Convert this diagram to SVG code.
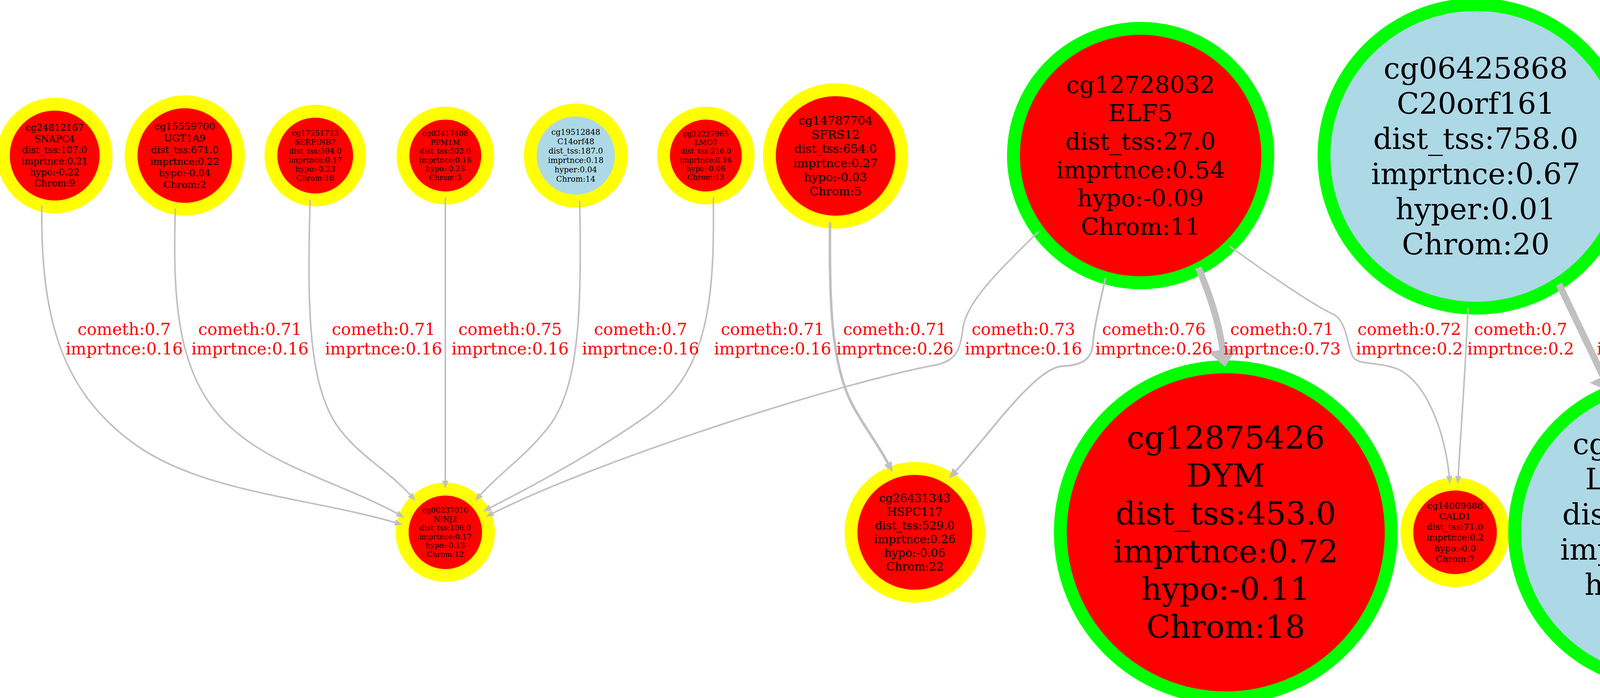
<svg xmlns="http://www.w3.org/2000/svg" width="5019" height="1786" viewBox="0 0 5019 1786">
<style>
.nd circle{stroke-width:33}
.rf{fill:#ff0000}.bf{fill:#add8e6}
.ys{stroke:#ffff00}.gs{stroke:#00ff00}
.nd text{font-family:"DejaVu Serif","Liberation Serif",serif;text-anchor:middle;fill:#000000}
.ed path{fill:none;stroke:#c0c0c0}
.t1{stroke-width:4}.t2{stroke-width:6.5}.t2b{stroke-width:4.5}.t3{stroke-width:17}
.lb{font-family:"DejaVu Serif","Liberation Serif",serif;font-size:42px;fill:#ff0000;text-anchor:middle}
</style>
<defs>
<marker id="a1" markerUnits="userSpaceOnUse" viewBox="0 -8 21 16" refX="0" refY="0" markerWidth="21" markerHeight="16" orient="auto" overflow="visible"><path d="M0,-8L21,0L0,8Z" fill="#c0c0c0"/></marker>
<marker id="a2" markerUnits="userSpaceOnUse" viewBox="0 -11 26 22" refX="0" refY="0" markerWidth="26" markerHeight="22" orient="auto" overflow="visible"><path d="M0,-11L26,0L0,11Z" fill="#c0c0c0"/></marker>
<marker id="a3" markerUnits="userSpaceOnUse" viewBox="0 -38 44 76" refX="0" refY="0" markerWidth="44" markerHeight="76" orient="auto" overflow="visible"><path d="M0,-38L44,0L0,38Z" fill="#c0c0c0"/></marker>
</defs>
<rect x="0" y="0" width="5019" height="1786" fill="#ffffff"/>

<g id="node_cg24812167" class="nd"><circle cx="140" cy="398" r="131.5" class="rf ys"/>
<text x="140" y="335.2" font-size="23.7"><tspan x="140">cg24812167</tspan><tspan x="140" dy="28.44">SNAPC4</tspan><tspan x="140" dy="28.44">dist_tss:107.0</tspan><tspan x="140" dy="28.44">imprtnce:0.21</tspan><tspan x="140" dy="28.44">hypo:-0.22</tspan><tspan x="140" dy="28.44">Chrom:9</tspan></text></g>

<g id="node_cg15559700" class="nd"><circle cx="473" cy="398" r="137.5" class="rf ys"/>
<text x="473" y="332.3" font-size="24.8"><tspan x="473">cg15559700</tspan><tspan x="473" dy="29.76">UGT1A9</tspan><tspan x="473" dy="29.76">dist_tss:671.0</tspan><tspan x="473" dy="29.76">imprtnce:0.22</tspan><tspan x="473" dy="29.76">hypo:-0.04</tspan><tspan x="473" dy="29.76">Chrom:2</tspan></text></g>

<g id="node_cg17251713" class="nd"><circle cx="807" cy="398" r="113.5" class="rf ys"/>
<text x="807" y="347.1" font-size="19.2"><tspan x="807">cg17251713</tspan><tspan x="807" dy="23.04">SERPINB7</tspan><tspan x="807" dy="23.04">dist_tss:394.0</tspan><tspan x="807" dy="23.04">imprtnce:0.17</tspan><tspan x="807" dy="23.04">hypo:-0.23</tspan><tspan x="807" dy="23.04">Chrom:18</tspan></text></g>

<g id="node_cg02417408" class="nd"><circle cx="1140" cy="398" r="108.5" class="rf ys"/>
<text x="1140" y="348.4" font-size="18.7"><tspan x="1140">cg02417408</tspan><tspan x="1140" dy="22.44">PPM1M</tspan><tspan x="1140" dy="22.44">dist_tss:502.0</tspan><tspan x="1140" dy="22.44">imprtnce:0.16</tspan><tspan x="1140" dy="22.44">hypo:-0.33</tspan><tspan x="1140" dy="22.44">Chrom:3</tspan></text></g>

<g id="node_cg19512848" class="nd"><circle cx="1474" cy="398" r="116.5" class="bf ys"/>
<text x="1474" y="345.3" font-size="19.9"><tspan x="1474">cg19512848</tspan><tspan x="1474" dy="23.88">C14orf48</tspan><tspan x="1474" dy="23.88">dist_tss:187.0</tspan><tspan x="1474" dy="23.88">imprtnce:0.18</tspan><tspan x="1474" dy="23.88">hyper:0.04</tspan><tspan x="1474" dy="23.88">Chrom:14</tspan></text></g>

<g id="node_cg22227965" class="nd"><circle cx="1807" cy="398" r="108.5" class="rf ys"/>
<text x="1807" y="348.7" font-size="18.6"><tspan x="1807">cg22227965</tspan><tspan x="1807" dy="22.32">LMO7</tspan><tspan x="1807" dy="22.32">dist_tss:216.0</tspan><tspan x="1807" dy="22.32">imprtnce:0.16</tspan><tspan x="1807" dy="22.32">hypo:-0.06</tspan><tspan x="1807" dy="22.32">Chrom:13</tspan></text></g>

<g id="node_cg14787704" class="nd"><circle cx="2139" cy="399" r="169.5" class="rf ys"/>
<text x="2139" y="319" font-size="30.2"><tspan x="2139">cg14787704</tspan><tspan x="2139" dy="36.24">SFRS12</tspan><tspan x="2139" dy="36.24">dist_tss:654.0</tspan><tspan x="2139" dy="36.24">imprtnce:0.27</tspan><tspan x="2139" dy="36.24">hypo:-0.03</tspan><tspan x="2139" dy="36.24">Chrom:5</tspan></text></g>

<g id="node_cg12728032" class="nd"><circle cx="2920" cy="398" r="325.5" class="rf gs"/>
<text x="2920" y="237.7" font-size="60.5"><tspan x="2920">cg12728032</tspan><tspan x="2920" dy="72.6">ELF5</tspan><tspan x="2920" dy="72.6">dist_tss:27.0</tspan><tspan x="2920" dy="72.6">imprtnce:0.54</tspan><tspan x="2920" dy="72.6">hypo:-0.09</tspan><tspan x="2920" dy="72.6">Chrom:11</tspan></text></g>

<g id="node_cg06425868" class="nd"><circle cx="3778" cy="400" r="388.5" class="bf gs"/>
<text x="3778" y="201.3" font-size="75"><tspan x="3778">cg06425868</tspan><tspan x="3778" dy="90">C20orf161</tspan><tspan x="3778" dy="90">dist_tss:758.0</tspan><tspan x="3778" dy="90">imprtnce:0.67</tspan><tspan x="3778" dy="90">hyper:0.01</tspan><tspan x="3778" dy="90">Chrom:20</tspan></text></g>

<g id="node_cg03332271" class="nd"><circle cx="4607" cy="400" r="390.5" class="bf gs"/>
<text x="4607" y="198.6" font-size="76"><tspan x="4607">cg03332271</tspan><tspan x="4607" dy="91.2">MST1R</tspan><tspan x="4607" dy="91.2">dist_tss:81.0</tspan><tspan x="4607" dy="91.2">imprtnce:0.68</tspan><tspan x="4607" dy="91.2">hyper:0.05</tspan><tspan x="4607" dy="91.2">Chrom:3</tspan></text></g>

<g id="node_cg00237010" class="nd"><circle cx="1140" cy="1362" r="110.5" class="rf ys"/>
<text x="1140" y="1312.2" font-size="18.8"><tspan x="1140">cg00237010</tspan><tspan x="1140" dy="22.56">NINJ2</tspan><tspan x="1140" dy="22.56">dist_tss:106.0</tspan><tspan x="1140" dy="22.56">imprtnce:0.17</tspan><tspan x="1140" dy="22.56">hypo:-0.13</tspan><tspan x="1140" dy="22.56">Chrom:12</tspan></text></g>

<g id="node_cg26431343" class="nd"><circle cx="2342" cy="1362" r="163.5" class="rf ys"/>
<text x="2342" y="1284.9" font-size="29.1"><tspan x="2342">cg26431343</tspan><tspan x="2342" dy="34.92">HSPC117</tspan><tspan x="2342" dy="34.92">dist_tss:529.0</tspan><tspan x="2342" dy="34.92">imprtnce:0.26</tspan><tspan x="2342" dy="34.92">hypo:-0.06</tspan><tspan x="2342" dy="34.92">Chrom:22</tspan></text></g>

<g id="node_cg12875426" class="nd"><circle cx="3138" cy="1362" r="423.5" class="rf gs"/>
<text x="3138" y="1148.4" font-size="80.6"><tspan x="3138">cg12875426</tspan><tspan x="3138" dy="96.72">DYM</tspan><tspan x="3138" dy="96.72">dist_tss:453.0</tspan><tspan x="3138" dy="96.72">imprtnce:0.72</tspan><tspan x="3138" dy="96.72">hypo:-0.11</tspan><tspan x="3138" dy="96.72">Chrom:18</tspan></text></g>

<g id="node_cg14009688" class="nd"><circle cx="3725" cy="1362" r="123.5" class="rf ys"/>
<text x="3725" y="1302.1" font-size="22.6"><tspan x="3725">cg14009688</tspan><tspan x="3725" dy="27.12">CALD1</tspan><tspan x="3725" dy="27.12">dist_tss:71.0</tspan><tspan x="3725" dy="27.12">imprtnce:0.2</tspan><tspan x="3725" dy="27.12">hypo:-0.0</tspan><tspan x="3725" dy="27.12">Chrom:7</tspan></text></g>

<g id="node_cg20484352" class="nd"><circle cx="4262" cy="1361" r="384.5" class="bf gs"/>
<text x="4262" y="1162.3" font-size="75"><tspan x="4262">cg20484352</tspan><tspan x="4262" dy="90">LOC92689</tspan><tspan x="4262" dy="90">dist_tss:342.0</tspan><tspan x="4262" dy="90">imprtnce:0.67</tspan><tspan x="4262" dy="90">hyper:0.06</tspan><tspan x="4262" dy="90">Chrom:4</tspan></text></g>

<g id="edges" class="ed">
<path id="e1" class="t1" marker-end="url(#a1)" d="M107,525 C104,800 150,1000 350,1140 C520,1260 800,1275 1011,1337"/>
<path id="e2" class="t1" marker-end="url(#a1)" d="M449,533 C440,800 460,990 610,1110 C720,1200 880,1240 1017,1314"/>
<path id="e3" class="t1" marker-end="url(#a1)" d="M794,511 C786,790 790,975 860,1085 C915,1165 990,1200 1050,1266"/>
<path id="e4" class="t1" marker-end="url(#a1)" d="M1140,506 L1140,1230"/>
<path id="e5" class="t1" marker-end="url(#a1)" d="M1484,514 C1490,810 1480,985 1410,1085 C1350,1165 1285,1205 1230,1266"/>
<path id="e6" class="t1" marker-end="url(#a1)" d="M1826,505 C1830,770 1812,955 1655,1065 C1525,1155 1400,1225 1255,1299"/>
<path id="e7" class="t1" marker-end="url(#a1)" d="M2659,592 C2560,690 2475,770 2465,840 C2458,900 2445,925 2390,935 C2150,980 1550,1170 1262,1313"/>
<path id="e8" class="t2" marker-end="url(#a2)" d="M2125,568 C2122,790 2130,950 2190,1050 C2222,1105 2252,1145 2273,1185"/>
<path id="e9" class="t2b" marker-end="url(#a2)" d="M2830,711 C2815,780 2800,840 2798,880 C2795,915 2775,935 2720,937 C2650,940 2530,1115 2447,1205"/>
<path id="e10" class="t3" marker-end="url(#a3)" d="M3068,685 C3095,750 3120,820 3130,895"/>
<path id="e11" class="t1" marker-end="url(#a1)" d="M3148,630 C3230,690 3360,780 3415,805 C3450,825 3450,895 3465,915 C3480,935 3530,925 3580,945 C3660,985 3700,1120 3710,1218"/>
<path id="e12" class="t1" marker-end="url(#a1)" d="M3758,788 C3752,940 3740,1100 3733,1218"/>
<path id="e13" class="t3" marker-end="url(#a3)" d="M3991,727 L4104,963"/>
<path id="e14" class="t3" marker-end="url(#a3)" d="M4531,783 L4462,970"/>
<text class="lb" x="318" y="857"><tspan x="318">cometh:0.7</tspan><tspan x="318" dy="50.4">imprtnce:0.16</tspan></text>
<text class="lb" x="640" y="857"><tspan x="640">cometh:0.71</tspan><tspan x="640" dy="50.4">imprtnce:0.16</tspan></text>
<text class="lb" x="982" y="857"><tspan x="982">cometh:0.71</tspan><tspan x="982" dy="50.4">imprtnce:0.16</tspan></text>
<text class="lb" x="1306" y="857"><tspan x="1306">cometh:0.75</tspan><tspan x="1306" dy="50.4">imprtnce:0.16</tspan></text>
<text class="lb" x="1640" y="857"><tspan x="1640">cometh:0.7</tspan><tspan x="1640" dy="50.4">imprtnce:0.16</tspan></text>
<text class="lb" x="1978" y="857"><tspan x="1978">cometh:0.71</tspan><tspan x="1978" dy="50.4">imprtnce:0.16</tspan></text>
<text class="lb" x="2291" y="857"><tspan x="2291">cometh:0.71</tspan><tspan x="2291" dy="50.4">imprtnce:0.26</tspan></text>
<text class="lb" x="2620" y="857"><tspan x="2620">cometh:0.73</tspan><tspan x="2620" dy="50.4">imprtnce:0.16</tspan></text>
<text class="lb" x="2954" y="857"><tspan x="2954">cometh:0.76</tspan><tspan x="2954" dy="50.4">imprtnce:0.26</tspan></text>
<text class="lb" x="3282" y="857"><tspan x="3282">cometh:0.71</tspan><tspan x="3282" dy="50.4">imprtnce:0.73</tspan></text>
<text class="lb" x="3608" y="857"><tspan x="3608">cometh:0.72</tspan><tspan x="3608" dy="50.4">imprtnce:0.2</tspan></text>
<text class="lb" x="3893" y="857"><tspan x="3893">cometh:0.7</tspan><tspan x="3893" dy="50.4">imprtnce:0.2</tspan></text>
<text class="lb" x="4238" y="857"><tspan x="4238">cometh:0.78</tspan><tspan x="4238" dy="50.4">imprtnce:0.68</tspan></text>
<text class="lb" x="4667" y="857"><tspan x="4667">cometh:0.7</tspan><tspan x="4667" dy="50.4">imprtnce:0.67</tspan></text>
</g>
</svg>
